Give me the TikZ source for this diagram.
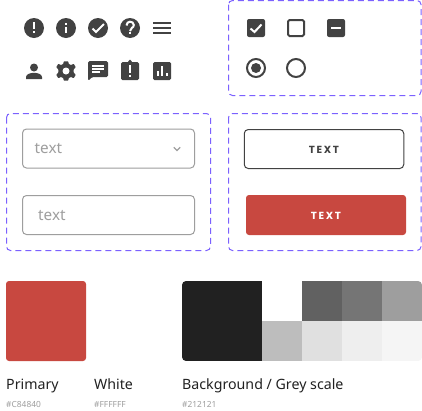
\documentclass[tikz,border=0pt]{standalone}
\usepackage{fontspec}
\setmainfont{Noto Sans}
\newfontfamily\btnfont[LetterSpace=16]{Poppins}
\definecolor{ink}{HTML}{424242}
\definecolor{violet}{HTML}{7B61FF}
\definecolor{brick}{HTML}{C84840}
\definecolor{midgrey}{HTML}{9E9E9E}
\definecolor{night}{HTML}{212121}
\definecolor{greyA}{HTML}{BDBDBD}
\definecolor{greyB}{HTML}{616161}
\definecolor{greyC}{HTML}{E0E0E0}
\definecolor{greyD}{HTML}{757575}
\definecolor{greyE}{HTML}{EEEEEE}
\definecolor{greyF}{HTML}{F5F5F5}
\tikzset{
  frame/.style={draw=violet,line width=1pt,dash pattern=on 6pt off 4pt,rounded corners=4pt},
  field/.style={draw=midgrey,line width=1pt,rounded corners=4pt},
  hint/.style={text=midgrey,font=\fontsize{15.3}{16}\selectfont,inner sep=0pt,anchor=base west},
  btnlabel/.style={font=\btnfont\bfseries\fontsize{10.3}{11}\selectfont,inner sep=0pt},
  caption/.style={text=night,font=\fontsize{14.2}{16}\selectfont,inner sep=0pt,anchor=base west},
  hexcode/.style={text=midgrey,font=\fontsize{8.4}{10}\selectfont,inner sep=0pt,anchor=base west},
  glyph/.style={fill=ink,draw=none},
  cut/.style={fill=white,draw=none},
}
\begin{document}
\begin{tikzpicture}[x=1pt,y=-1pt]
\useasboundingbox[fill=white] (0,0) rectangle (422,410);
% frames
\draw[frame] (228.5,0.5) rectangle (421,95.5);
\draw[frame] (6.5,113.5) rectangle (210.5,250.5);
\draw[frame] (228.5,113.5) rectangle (421,250.5);
% row one icons
\fill[glyph] (34,28) circle (10);
\fill[cut] (33,22) rectangle (35,29); \fill[cut] (33,31) rectangle (35,33);
\fill[glyph] (66,28) circle (10);
\fill[cut] (65,27) rectangle (67,33); \fill[cut] (65,23) rectangle (67,25);
\fill[glyph] (98,28) circle (10);
\draw[white,line width=2pt] (92.5,28.5) -- (96,32) -- (104,24);
\fill[glyph] (130,28) circle (10);
\draw[white,line width=2pt] (126.5,25.5) .. controls (126.5,20.5) and (133.5,20.5) .. (133.8,25) .. controls (134,28) and (130,27.5) .. (130,31);
\fill[cut] (129,32) rectangle (131,34);
\fill[ink] (153,22) rectangle (171,24);
\fill[ink] (153,27) rectangle (171,29);
\fill[ink] (153,32) rectangle (171,34);
% row two icons
\fill[glyph] (34,67.5) circle (4);
\fill[glyph] (26,79) -- (26,77) .. controls (26,74) and (31,72.8) .. (34,72.8) .. controls (37,72.8) and (42,74) .. (42,77) -- (42,79) -- cycle;
\begin{scope}[shift={(66,71)}]
\fill[glyph,rounded corners=0.6pt] (-2.2,-9.7) -- (2.2,-9.7) -- (2.8,-7) -- (5,-6) -- (7.8,-7.2) -- (9.8,-3.6) -- (7.6,-1.7) -- (7.6,1.7) -- (9.8,3.6) -- (7.8,7.2) -- (5,6) -- (2.8,7) -- (2.2,9.7) -- (-2.2,9.7) -- (-2.8,7) -- (-5,6) -- (-7.8,7.2) -- (-9.8,3.6) -- (-7.6,1.7) -- (-7.6,-1.7) -- (-9.8,-3.6) -- (-7.8,-7.2) -- (-5,-6) -- (-2.8,-7) -- cycle;
\fill[cut] (0,0) circle (3.5);
\end{scope}
\fill[glyph,rounded corners=1.5pt] (88,81) -- (88,61) -- (108,61) -- (108,77) -- (92,77) -- cycle;
\fill[cut] (92,65) rectangle (104,67);
\fill[cut] (92,68) rectangle (104,70);
\fill[cut] (92,71) rectangle (100,73);
\fill[glyph,rounded corners=1.5pt] (121,62) rectangle (139,80);
\fill[glyph] (130,61.5) circle (1.8);
\fill[cut] (129,65) rectangle (131,73); \fill[cut] (129,75) rectangle (131,77);
\fill[glyph,rounded corners=1.5pt] (153,62) rectangle (171,80);
\fill[cut] (156.5,71) rectangle (158.5,76);
\fill[cut] (161,66) rectangle (163,76);
\fill[cut] (165.5,72.5) rectangle (167.5,76);
% check boxes
\fill[glyph,rounded corners=2pt] (247,19) rectangle (265,37);
\draw[white,line width=2pt] (250.5,28.5) -- (254.5,32) -- (261.5,24.5);
\draw[ink,line width=2pt,rounded corners=1.5pt] (288,20) rectangle (304,36);
\fill[glyph,rounded corners=2pt] (327,19) rectangle (345,37);
\fill[cut] (331,27) rectangle (341,29);
\draw[ink,line width=2pt] (256,68) circle (9);
\fill[glyph] (256,68) circle (5);
\draw[ink,line width=2pt] (296,68) circle (9);
% fields
\node[field,minimum width=172pt,minimum height=39pt,inner sep=0pt] (sel) at (108.5,148.5) {};
\node[field,minimum width=172pt,minimum height=39pt,inner sep=0pt] (inp) at (108.5,215) {};
\node[hint] (seltxt) at (34.5,153.7) {text};
\node[hint] (inptxt) at (38,220) {text};
\draw[midgrey,line width=1.1pt] (173.8,147.3) -- (177,150.5) -- (180.2,147.3);
% buttons
\node[draw=ink,line width=1pt,rounded corners=4pt,minimum width=159.5pt,minimum height=39pt,inner sep=0pt] (b1) at (324,149) {};
\node[btnlabel,text=ink,yshift=-0.6pt] at (b1) {TEXT};
\node[fill=brick,rounded corners=3pt,minimum width=160pt,minimum height=40pt,inner sep=0pt] (b2) at (326,215) {};
\node[btnlabel,text=white,yshift=-0.6pt] at (b2) {TEXT};
% swatches
\fill[brick,rounded corners=3pt] (6,281) rectangle (86,361);
\begin{scope}
\clip[rounded corners=4pt] (182,281) rectangle (422,361);
\fill[night] (182,281) rectangle (262,361);
\fill[greyA] (262,321) rectangle (302,361);
\fill[greyB] (302,281) rectangle (342,321);
\fill[greyC] (302,321) rectangle (342,361);
\fill[greyD] (342,281) rectangle (382,321);
\fill[greyE] (342,321) rectangle (382,361);
\fill[midgrey] (382,281) rectangle (422,321);
\fill[greyF] (382,321) rectangle (422,361);
\end{scope}
% captions
\node[caption] at (6,389) {Primary};
\node[caption] at (94,389) {White};
\node[caption] at (182,389) {Background / Grey scale};
\node[hexcode] at (6,407) {\#C84840};
\node[hexcode] at (94,407) {\#FFFFFF};
\node[hexcode] at (182,407) {\#212121};
\end{tikzpicture}
\end{document}
